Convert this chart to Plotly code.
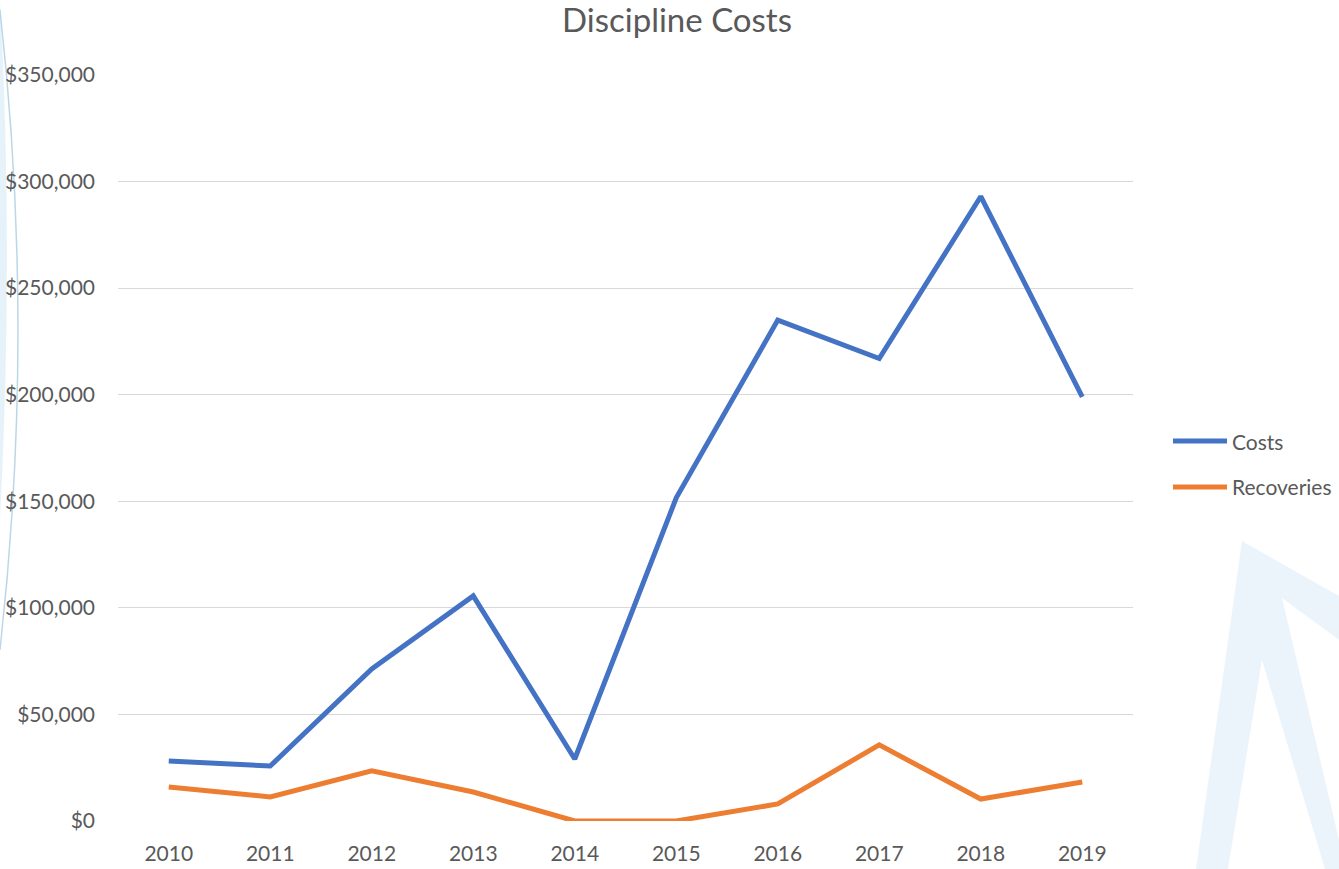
import plotly.graph_objects as go

years = ["2010", "2011", "2012", "2013", "2014", "2015", "2016", "2017", "2018", "2019"]
costs = [28200, 25800, 71300, 105600, 29100, 151600, 235000, 217000, 293000, 199000]
recoveries = [16000, 11300, 23500, 13600, 0, 0, 8000, 35700, 10300, 18300]

series_names = ["Costs", "Recoveries"]
series_colors = ["#4472C4", "#ED7D31"]

y_ticks = [0, 50000, 100000, 150000, 200000, 250000, 300000, 350000]
y_labels = ["$0", "$50,000", "$100,000", "$150,000", "$200,000", "$250,000", "$300,000", "$350,000"]

FONT = "Lato, Open Sans, sans-serif"
GREY = "#595959"

# plot area in pixels: x 118..1133, y 75..821
L, R, T, B = 118, 1133, 75, 821


def px(x, y):
    """Convert page pixel position to paper coordinates."""
    return (x - L) / (R - L), (B - y) / (B - T)


def path_from(points, close=True):
    s = " ".join(("M" if i == 0 else "L") + " {:.4f},{:.4f}".format(*px(a, b))
                 for i, (a, b) in enumerate(points))
    return s + (" Z" if close else "")


fig = go.Figure()
for name, vals, col in zip(series_names, [costs, recoveries], series_colors):
    fig.add_trace(go.Scatter(x=years, y=vals, name=name, mode="lines", showlegend=False,
                             line=dict(color=col, width=5)))

shapes = []
# faint swoosh along the left edge
x0, y0 = px(0, 0)
x1, y1 = px(14, 250)
x2, y2 = px(0, 520)
xb, yb = px(-2, 250)
shapes.append(dict(type="path", xref="paper", yref="paper", layer="below",
                   path=f"M {x0:.4f},{y0:.4f} Q {x1:.4f},{y1:.4f} {x2:.4f},{y2:.4f} Q {xb:.4f},{yb:.4f} {x0:.4f},{y0:.4f} Z",
                   fillcolor="rgba(200,226,243,0.45)", line=dict(width=0)))
a0 = px(0, 10)
a1 = px(36, 330)
a2 = px(0, 650)
shapes.append(dict(type="path", xref="paper", yref="paper", layer="below",
                   path=f"M {a0[0]:.4f},{a0[1]:.4f} Q {a1[0]:.4f},{a1[1]:.4f} {a2[0]:.4f},{a2[1]:.4f}",
                   line=dict(color="rgba(170,205,225,0.8)", width=1.5)))
# faint chevron in the lower right corner
chev = [(1196, 869), (1242, 541), (1339, 596), (1339, 640), (1282, 598), (1339, 840),
        (1339, 869), (1325, 869), (1262, 660), (1228, 869)]
shapes.append(dict(type="path", xref="paper", yref="paper", layer="below", path=path_from(chev),
                   fillcolor="rgba(230,241,250,0.8)", line=dict(width=0)))

# legend entries
annotations = []
for i, (name, col) in enumerate(zip(series_names, series_colors)):
    ly = 441 + i * 46
    xa, ya = px(1173, ly)
    xb2, _ = px(1227, ly)
    shapes.append(dict(type="line", xref="paper", yref="paper", x0=xa, x1=xb2, y0=ya, y1=ya,
                       line=dict(color=col, width=5)))
    xt, yt = px(1230, ly)
    annotations.append(dict(text=name, xref="paper", yref="paper", x=xt, y=yt,
                            xanchor="left", yanchor="middle", showarrow=False,
                            font=dict(family=FONT, size=21, color=GREY)))

fig.update_layout(
    width=1339, height=869,
    margin=dict(l=L, r=1339 - R, t=T, b=869 - B, autoexpand=False),
    paper_bgcolor="white", plot_bgcolor="rgba(0,0,0,0)",
    title=dict(text="Discipline Costs", x=0.5056, xref="container", xanchor="center",
               y=0.977, yanchor="middle",
               font=dict(family=FONT, size=33, color=GREY)),
    font=dict(family=FONT, color=GREY, size=21),
    xaxis=dict(type="category", range=[-0.5, 9.5], showgrid=False, zeroline=False,
               showline=False, ticks="", tickfont=dict(size=21, color=GREY), ticklabelstandoff=18),
    yaxis=dict(range=[0, 350000], tickvals=y_ticks, ticktext=y_labels,
               showgrid=True, gridcolor="#D9D9D9", gridwidth=1, zeroline=False,
               ticks="", tickfont=dict(size=21, color=GREY), ticklabelstandoff=22),
    showlegend=False,
    shapes=shapes,
    annotations=annotations,
)

fig.write_html("out.html")
